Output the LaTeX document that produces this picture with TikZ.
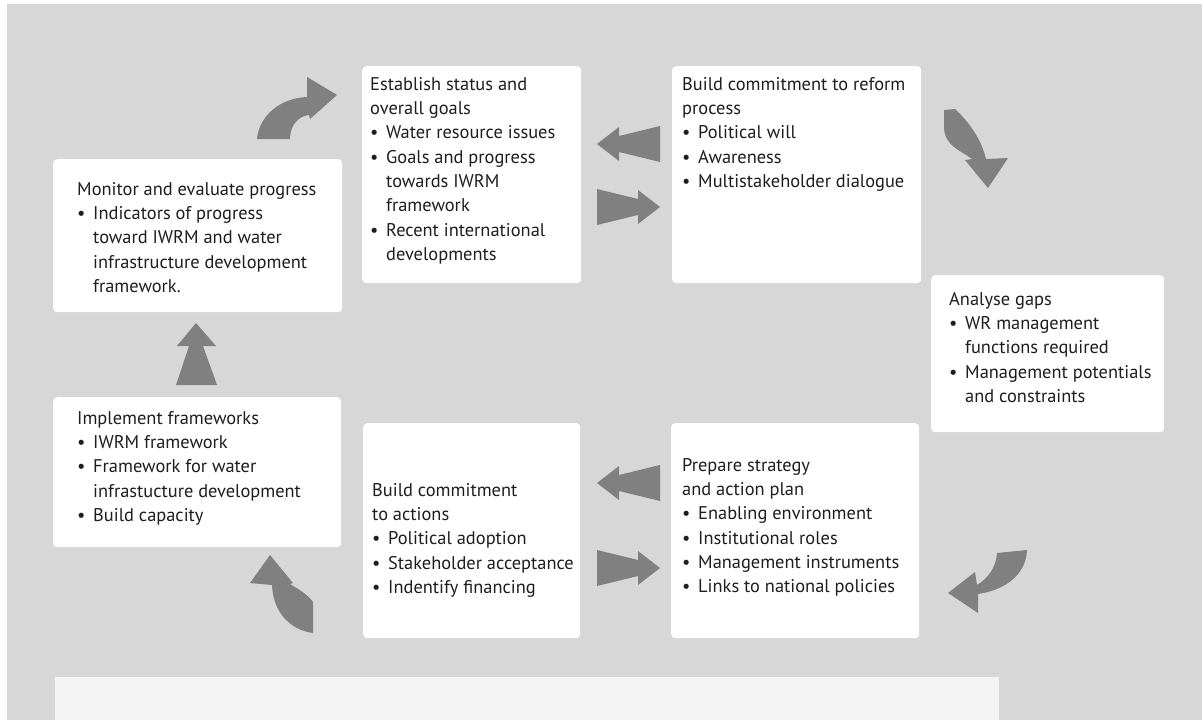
\documentclass[tikz,border=0pt]{standalone}
\usepackage{fontspec}
\setmainfont{PT Sans}
\definecolor{bg}{HTML}{D7D7D7}
\definecolor{arr}{HTML}{808080}
\definecolor{panel}{HTML}{F3F3F3}
\definecolor{ink}{HTML}{1E1E1E}
\newcommand{\bl}{\makebox[16pt][l]{•}}
\newcommand{\ind}{\hspace*{16pt}}
\newcommand{\st}{\rule{0pt}{14pt}}
\tikzset{
  box/.style={fill=white, rounded corners=4pt, draw=none, anchor=north west, inner sep=0pt},
  label/.style={anchor=north west, inner sep=0pt, align=left, text=ink, font=\fontsize{18.4}{24.3}\selectfont},
  dblarrow/.pic={\fill[arr] (-31.5,0) -- (-9.5,-17) -- (-9.5,-8) -- (31.5,-18) -- (31.5,18) -- (-9.5,8) -- (-9.5,17) -- cycle;}
}
\begin{document}
\begin{tikzpicture}[x=1pt,y=-1pt]
\useasboundingbox (0,0) rectangle (1202,720);
\fill[white] (0,0) rectangle (1202,720);
\fill[bg] (7,4) rectangle (1202,720);
\fill[panel] (55,677) rectangle (999,720);

% boxes
\node[box, minimum width=219pt, minimum height=217pt] (b1) at (362,66) {};
\node[box, minimum width=249pt, minimum height=217pt] (b2) at (672,66) {};
\node[box, minimum width=289pt, minimum height=153pt] (b3) at (53,159) {};
\node[box, minimum width=233pt, minimum height=157pt] (b4) at (931,275) {};
\node[box, minimum width=288pt, minimum height=150pt] (b5) at (53,397) {};
\node[box, minimum width=217pt, minimum height=215pt] (b6) at (363,423) {};
\node[box, minimum width=248pt, minimum height=215pt] (b7) at (671,423) {};

% texts
\node[label] (t1) at (370,76) {\st Establish status and\\overall goals\\\bl Water resource issues\\\bl Goals and progress\\\ind towards IWRM\\\ind framework\\\bl Recent international\\\ind developments};
\node[label] (t2) at (682,76) {\st Build commitment to reform\\process\\\bl Political will\\\bl Awareness\\\bl Multistakeholder dialogue};
\node[label] (t3) at (77,181) {\st Monitor and evaluate progress\\\bl Indicators of progress\\\ind toward IWRM and water\\\ind infrastructure development\\\ind framework.};
\node[label] (t4) at (949,291) {\st Analyse gaps\\\bl WR management\\\ind functions required\\\bl Management potentials\\\ind and constraints};
\node[label] (t5) at (77,410) {\st Implement frameworks\\\bl IWRM framework\\\bl Framework for water\\\ind infrastucture development\\\bl Build capacity};
\node[label] (t6) at (372,482) {\st Build commitment\\to actions\\\bl Political adoption\\\bl Stakeholder acceptance\\\bl Indentify financing};
\node[label] (t7) at (682,457) {\st Prepare strategy\\and action plan\\\bl Enabling environment\\\bl Institutional roles\\\bl Management instruments\\\bl Links to national policies};

% double arrows
\pic at (628.5,144) {dblarrow};
\pic[xscale=-1] at (628.5,207) {dblarrow};
\pic at (628.5,483) {dblarrow};
\pic[xscale=-1] at (628.5,568) {dblarrow};

% up arrow
\fill[arr] (196,323) -- (216,346) -- (203,346) -- (217,385) -- (176,385) -- (189,346) -- (177,346) -- cycle;

% curved arrows
\fill[arr] (257,139) .. controls (259,116) and (280,98) .. (307,97) -- (307,77) -- (337,95) -- (310,119) -- (309,115) .. controls (298,116) and (290,126) .. (290,139) -- cycle;
\fill[arr] (944,110) -- (955,109) .. controls (972,125) and (982,142) .. (986,159) -- (1008,158) -- (988,188) -- (965,160) -- (972,159) .. controls (960,150) and (945,146) .. (944,128) -- cycle;
\fill[arr] (997,553) -- (1027,550) .. controls (1026,575) and (1005,590) .. (978,594) -- (978,613) -- (948,593) -- (975,572) -- (977,585) .. controls (988,578) and (996,568) .. (997,553) -- cycle;
\fill[arr] (250,583) -- (270,555) -- (293,583) -- (290,584) .. controls (300,590) and (308,595) .. (313,602) -- (313,633) .. controls (290,630) and (273,612) .. (272,585) -- cycle;
\end{tikzpicture}
\end{document}
